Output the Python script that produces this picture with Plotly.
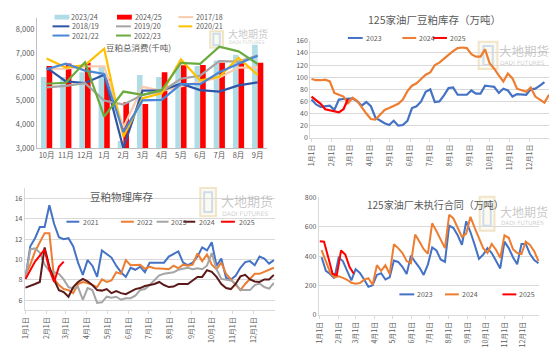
import plotly.graph_objects as go

W, H = 550, 351
FONT = "Noto Sans CJK SC"
TXT = "#595959"
GRID = "#D9D9D9"
AXL = "#BFBFBF"

# ---------------- Panel 1: 豆粕总消费(千吨) ----------------
months_p1 = ["10月", "11月", "12月", "1月", "2月", "3月", "4月", "5月", "6月", "7月", "8月", "9月"]
bar_2023_24 = [6000, 6000, 6200, 6480, 3310, 6090, 6000, 6480, 6470, 6700, 6940, 7360]
bar_2024_25 = [6460, 6570, 6600, 5930, 4940, 4870, 6200, 6500, 6510, 6600, 6580, 6600]
line_2017_18 = [6350, 6350, 6450, 6450, 3880, 5590, 5420, 5600, 5790, 5980, 6400, 6400]
line_2018_19 = [6400, 5820, 5750, 6100, 3010, 5430, 5440, 5720, 5450, 5390, 5650, 5780]
line_2019_20 = [5570, 5630, 5740, 5010, 4840, 5250, 5400, 5930, 6060, 6670, 6650, 6900]
line_2020_21 = [6780, 6400, 6500, 7190, 3490, 5110, 5320, 6740, 5860, 6010, 6810, 6090]
line_2021_22 = [6330, 6560, 6270, 6130, 3690, 5020, 5040, 5700, 5700, 6200, 6560, 6900]
line_2022_23 = [5720, 5760, 6620, 4340, 5390, 5250, 5450, 6600, 6560, 7280, 7080, 6550]
p1_ticks = [3000, 4000, 5000, 6000, 7000, 8000]

# ---------------- shared date axis (day of year) ----------------
month_start_days = [0, 31, 59, 90, 120, 151, 181, 212, 243, 273, 304, 334]
month_labels = ["1月1日", "2月1日", "3月1日", "4月1日", "5月1日", "6月1日",
                "7月1日", "8月1日", "9月1日", "10月1日", "11月1日", "12月1日"]

# ---------------- Panel 2: 125家油厂豆粕库存（万吨） ----------------
stock_2023 = [63, 55, 51, 52, 53, 46, 63, 64, 64, 65, 60, 53, 59, 52, 33, 28, 24, 21, 28, 20,
              21, 28, 49, 52, 60, 76, 80, 59, 60, 70, 82, 83, 71, 71, 71, 78, 73, 73, 86, 85,
              84, 74, 81, 78, 68, 72, 72, 71, 80, 81, 86, 92]
stock_2024 = [97, 95, 95, 96, 93, 74, 71, 68, 57, 66, 61, 50, 40, 31, 30, 38, 46, 49, 53, 56,
              63, 77, 86, 90, 97, 104, 108, 120, 124, 131, 137, 143, 148, 149, 148, 138, 134, 134, 146, 123,
              114, 103, 93, 106, 98, 81, 78, 76, 83, 68, 63, 58, 71]
stock_2025 = [68, 62, 56, 47, 45, 44, 42, 47, 64]
stock_days_2023 = [7 * i for i in range(len(stock_2023))]
stock_days_2024 = [7 * i for i in range(len(stock_2024))]
stock_days_2025 = [7 * i for i in range(len(stock_2025))]

# ---------------- Panel 3: 豆粕物理库存 ----------------
phys_2021 = [8.2, 11.3, 12.1, 13.2, 13.2, 15.35, 13.5, 12.2, 12.0, 12.1, 11.3, 9.7, 8.5, 9.95, 9.4,
             8.3, 10.9, 10.55, 10.2, 9.4, 8.75, 8.3, 9.2, 9.0, 9.3, 8.75, 9.7, 9.7, 9.7, 9.7,
             10.3, 10.55, 10.8, 9.7, 9.45, 9.7, 10.3, 11.2, 10.9, 11.7, 9.4, 10.1, 8.2, 8.05, 8.4,
             9.2, 9.75, 9.85, 9.45, 10.3, 10.1, 9.6, 9.95]
phys_2022 = [8.5, 9.5, 10.8, 11.75, 12.6, 12.6, 8.1, 7.5, 7.1, 7.0, 6.7, 7.6, 7.8, 7.7, 7.5,
             7.3, 8.05, 7.8, 7.95, 8.75, 8.6, 9.95, 9.45, 9.5, 9.5, 9.1, 9.3, 9.15, 9.15, 9.1,
             9.05, 9.4, 9.15, 9.5, 9.4, 9.5, 10.6, 9.85, 10.5, 9.5, 9.05, 9.7, 8.6, 8.05, 7.6,
             7.0, 7.6, 8.05, 8.6, 8.6, 8.8, 9.0, 9.2]
phys_2023 = [8.2, 11.0, 11.1, 10.7, 9.5, 8.9, 8.75, 8.6, 8.05, 7.3, 7.15, 7.3, 6.05, 7.2, 7.0,
             5.75, 5.8, 6.35, 6.25, 6.35, 6.05, 6.2, 6.2, 6.45, 7.0, 7.1, 7.5, 7.95, 8.45, 8.6,
             8.7, 8.75, 9.0, 9.1, 9.2, 9.05, 9.15, 9.05, 9.4, 10.65, 9.05, 8.1, 8.05, 7.95, 7.65,
             7.0, 7.0, 7.0, 7.5, 7.65, 7.3, 7.15, 7.7]
phys_2024 = [7.25, 7.4, 7.6, 7.8, 11.2, 9.3, 8.0, 7.0, 6.8, 6.35, 7.3, 7.8, 8.1, 7.85, 7.5,
             7.0, 6.95, 7.1, 6.7, 6.9, 6.7, 6.6, 6.85, 7.1, 7.2, 7.4, 7.5, 7.6, 7.8, 7.5,
             7.3, 7.35, 7.6, 7.6, 7.6, 7.95, 8.3, 8.3, 8.95, 8.8, 8.3, 7.6, 7.2, 7.1, 7.6,
             8.35, 8.5, 8.05, 7.85, 7.8, 8.05, 8.05, 8.5]
phys_2025 = [8.1, 8.9, 9.8, 10.4, 11.0, 9.0, 7.8, 9.3, 9.8]
phys_days = [7 * i for i in range(len(phys_2021))]
phys_days_2025 = [7 * i for i in range(len(phys_2025))]

# ---------------- Panel 4: 125家油厂未执行合同（万吨） ----------------
unexec_2023 = [392, 300, 278, 250, 388, 366, 300, 235, 311, 285, 241, 191, 202, 272, 283, 241, 256,
               370, 360, 327, 278, 403, 360, 322, 272, 344, 458, 438, 377, 360, 607, 590, 541, 476,
               636, 563, 476, 381, 410, 454, 421, 373, 316, 498, 454, 392, 344, 482, 482, 414, 373, 351]
unexec_2024 = [440, 366, 289, 256, 263, 252, 239, 219, 213, 217, 240, 250, 205, 338, 300, 338, 278,
               480, 454, 421, 366, 351, 546, 498, 447, 416, 622, 570, 515, 454, 680, 655, 592, 530,
               552, 666, 592, 520, 454, 421, 482, 443, 388, 541, 524, 447, 421, 414, 498, 476, 432, 366]
unexec_2025 = [500, 497, 390, 280, 270, 438, 410, 325, 280]
unexec_days = [3 + 7 * i for i in range(len(unexec_2023))]
unexec_days_2025 = [7 * i for i in range(len(unexec_2025))]

# ---------------- colours ----------------
C_LBLUE = "#B0DCE6"
C_RED = "#FF0000"
C_PEACH = "#F8CBAD"
C_DBLUE = "#2F55A8"
C_GRAY = "#A5A5A5"
C_GOLD = "#FFC000"
C_BLUE = "#4A86D8"
C_GREEN = "#6AAB3F"
C_2023 = "#4472C4"
C_2024 = "#ED7D31"
C_BROWN = "#5C1A1A"


def fx(px):
    return px / W


def fy(py):
    return 1 - py / H


fig = go.Figure()

# Panel 1 traces
fig.add_trace(go.Bar(x=months_p1, y=bar_2023_24, name="2023/24", marker=dict(color=C_LBLUE, line=dict(width=0)),
                     xaxis="x", yaxis="y", showlegend=False))
fig.add_trace(go.Bar(x=months_p1, y=bar_2024_25, name="2024/25", marker=dict(color=C_RED, line=dict(width=0)),
                     xaxis="x", yaxis="y", showlegend=False))
p1_lines = [("2017/18", line_2017_18, C_PEACH), ("2018/19", line_2018_19, C_DBLUE),
            ("2019/20", line_2019_20, C_GRAY), ("2020/21", line_2020_21, C_GOLD),
            ("2021/22", line_2021_22, C_BLUE), ("2022/23", line_2022_23, C_GREEN)]
for nm, vals, col in p1_lines:
    fig.add_trace(go.Scatter(x=months_p1, y=vals, name=nm, mode="lines", line=dict(color=col, width=2.2),
                             xaxis="x", yaxis="y", showlegend=False))

# Panel 2 traces
p2_lines = [("2023", stock_days_2023, stock_2023, C_2023), ("2024", stock_days_2024, stock_2024, C_2024),
            ("2025", stock_days_2025, stock_2025, C_RED)]
for nm, xs, ys, col in p2_lines:
    fig.add_trace(go.Scatter(x=xs, y=ys, name=nm, mode="lines", line=dict(color=col, width=2.2),
                             xaxis="x2", yaxis="y2", showlegend=False))

# Panel 3 traces
p3_lines = [("2021", phys_days, phys_2021, C_2023), ("2022", phys_days, phys_2022, C_2024),
            ("2023", phys_days, phys_2023, C_GRAY), ("2024", phys_days, phys_2024, C_BROWN),
            ("2025", phys_days_2025, phys_2025, C_RED)]
for nm, xs, ys, col in p3_lines:
    fig.add_trace(go.Scatter(x=xs, y=ys, name=nm, mode="lines", line=dict(color=col, width=2),
                             xaxis="x3", yaxis="y3", showlegend=False))

# Panel 4 traces
p4_lines = [("2023", unexec_days, unexec_2023, C_2023), ("2024", unexec_days, unexec_2024, C_2024),
            ("2025", unexec_days_2025, unexec_2025, C_RED)]
for nm, xs, ys, col in p4_lines:
    fig.add_trace(go.Scatter(x=xs, y=ys, name=nm, mode="lines", line=dict(color=col, width=2),
                             xaxis="x4", yaxis="y4", showlegend=False))

shapes = []
annotations = []


def leg_line(x0, x1, y, color, text, tx, size=7.2):
    shapes.append(dict(type="line", xref="paper", yref="paper", x0=fx(x0), x1=fx(x1), y0=fy(y), y1=fy(y),
                       line=dict(color=color, width=2)))
    annotations.append(dict(xref="paper", yref="paper", x=fx(tx), y=fy(y), text=text, showarrow=False,
                            xanchor="left", yanchor="middle", borderpad=0,
                            font=dict(size=size, color=TXT, family=FONT)))


def leg_box(x0, x1, y, color, text, tx, size=7.2):
    shapes.append(dict(type="rect", xref="paper", yref="paper", x0=fx(x0), x1=fx(x1), y0=fy(y + 2.5),
                       y1=fy(y - 2.5), fillcolor=color, line=dict(width=0)))
    annotations.append(dict(xref="paper", yref="paper", x=fx(tx), y=fy(y), text=text, showarrow=False,
                            xanchor="left", yanchor="middle", borderpad=0,
                            font=dict(size=size, color=TXT, family=FONT)))


def title(x, y, text, size):
    annotations.append(dict(xref="paper", yref="paper", x=fx(x), y=fy(y), text=text, showarrow=False,
                            xanchor="center", yanchor="middle", borderpad=0,
                            font=dict(size=size, color=TXT, family=FONT)))


def watermark(lx, ly, lw, lh, tx, ty, size):
    # logo: pale golden frame with a pale blue frame inside
    shapes.append(dict(type="rect", xref="paper", yref="paper", x0=fx(lx), x1=fx(lx + lw), y0=fy(ly + lh),
                       y1=fy(ly), fillcolor="rgba(245,236,210,0.30)", line=dict(color="rgba(228,210,160,0.55)", width=2),
                       layer="below"))
    shapes.append(dict(type="rect", xref="paper", yref="paper", x0=fx(lx + lw * 0.25), x1=fx(lx + lw * 0.75),
                       y0=fy(ly + lh * 0.85), y1=fy(ly + lh * 0.15), fillcolor="rgba(0,0,0,0)",
                       line=dict(color="rgba(170,198,230,0.55)", width=2), layer="below"))
    annotations.append(dict(xref="paper", yref="paper", x=fx(tx), y=fy(ty), text="大地期货", showarrow=False,
                            xanchor="left", yanchor="middle", borderpad=0,
                            font=dict(size=size, color="rgba(175,175,175,0.7)", family=FONT)))
    annotations.append(dict(xref="paper", yref="paper", x=fx(tx + 1), y=fy(ty + size * 1.0), text="DADI FUTURES",
                            showarrow=False, xanchor="left", yanchor="middle", borderpad=0,
                            font=dict(size=size * 0.48, color="rgba(185,185,185,0.7)", family="DejaVu Sans")))


# watermarks
watermark(207, 26, 13, 17, 224, 28, 10)
watermark(478, 37, 19, 28, 498, 46, 12.5)
watermark(197, 188, 16, 29, 217, 201, 13)
watermark(479, 197, 15, 35, 499, 212, 12)

# Panel 1 legend
leg_box(50, 65, 11.5, C_LBLUE, "2023/24", 66)
leg_box(113, 128, 11.5, C_RED, "2024/25", 130)
leg_line(175, 190, 11.5, C_PEACH, "2017/18", 192)
leg_line(48, 65, 21, C_DBLUE, "2018/19", 67)
leg_line(112, 127, 21, C_GRAY, "2019/20", 129)
leg_line(175, 189, 21, C_GOLD, "2020/21", 192)
leg_line(48, 65, 30.5, C_BLUE, "2021/22", 67)
leg_line(112, 127, 30.5, C_GREEN, "2022/23", 129)
title(135, 42, "豆粕总消费(千吨)", 8.5)

# Panel 2 legend + title
leg_line(346, 361, 33, C_2023, "2023", 363, 7)
leg_line(401, 415, 33, C_2024, "2024", 417, 7)
leg_line(432, 446, 33, C_RED, "2025", 448, 7)
title(433, 14, "125家油厂豆粕库存（万吨）", 10.5)

# Panel 3 legend + title
leg_line(62, 75, 222.7, C_2023, "2021", 78, 7)
leg_line(117, 130, 222.7, C_2024, "2022", 132, 7)
leg_line(153, 165, 222.7, C_GRAY, "2023", 167, 7)
leg_line(180, 192, 222.7, C_BROWN, "2024", 195, 7)
leg_line(218, 232, 222.7, C_RED, "2025", 235, 7)
title(118, 197, "豆粕物理库存", 10.5)

# Panel 4 legend + title
leg_line(398, 413, 297.7, C_2023, "2023", 415, 7)
leg_line(444, 458, 297.7, C_2024, "2024", 460, 7)
leg_line(502, 516, 297.7, C_RED, "2025", 518, 7)
title(434, 205, "125家油厂未执行合同（万吨）", 10)

tick_font = dict(size=7, color=TXT, family=FONT)
date_axis = dict(tickmode="array", tickvals=month_start_days, ticktext=month_labels, tickangle=-90,
                 showgrid=False, showline=True, linecolor=GRID, ticks="outside", ticklen=3, tickcolor=GRID,
                 tickfont=tick_font, zeroline=False)
val_axis = dict(showgrid=True, gridcolor=GRID, gridwidth=1, showline=True, linecolor=GRID, ticks="",
                tickfont=tick_font, zeroline=False)

fig.update_layout(
    width=W, height=H, margin=dict(l=0, r=0, t=0, b=0),
    paper_bgcolor="white", plot_bgcolor="white",
    font=dict(family=FONT, color=TXT),
    barmode="group", bargap=0.415, bargroupgap=0,
    showlegend=False,
    xaxis=dict(domain=[fx(32.3), fx(264.7)], anchor="y", type="category", showgrid=False, showline=True,
               linecolor=AXL, ticks="", tickfont=dict(size=7.5, color=TXT, family=FONT)),
    yaxis=dict(domain=[fy(147), fy(12)], anchor="x", range=[3000, 8500], tickvals=p1_ticks, tickformat=",",
               showgrid=False, showline=True, linecolor=AXL, ticks="", zeroline=False,
               tickfont=dict(size=7.5, color=TXT, family=FONT)),
    xaxis2=dict(domain=[fx(308), fx(549)], anchor="y2", range=[-2, 364], **date_axis),
    yaxis2=dict(domain=[fy(136), fy(36)], anchor="x2", range=[0, 160], dtick=20, **val_axis),
    xaxis3=dict(domain=[fx(20), fx(272)], anchor="y3", range=[-1, 365], **date_axis),
    yaxis3=dict(domain=[fy(314.3), fy(188.3)], anchor="x3", range=[5, 17], dtick=2, **val_axis),
    xaxis4=dict(domain=[fx(316.7), fx(539)], anchor="y4", range=[-1.6, 361], **date_axis),
    yaxis4=dict(domain=[fy(319), fy(197.3)], anchor="x4", range=[0, 800], dtick=200, **val_axis),
    shapes=shapes,
    annotations=annotations,
)

fig.write_html("out.html")
